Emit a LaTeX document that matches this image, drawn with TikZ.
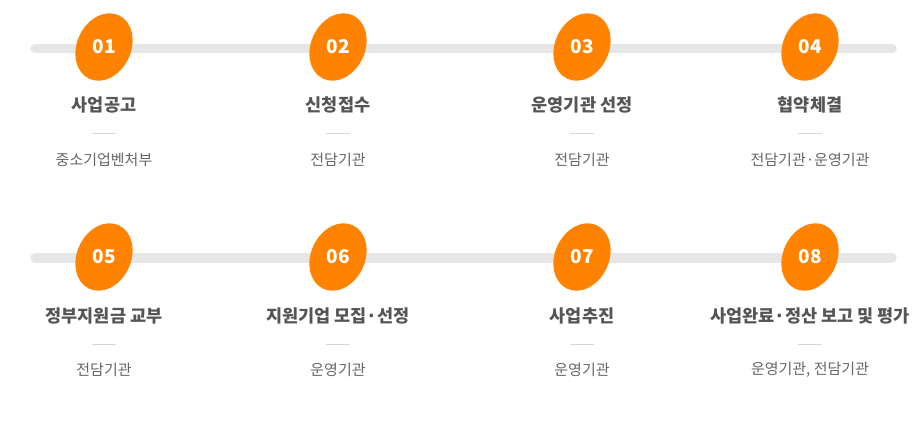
\documentclass[tikz,border=0pt]{standalone}
\usepackage{fontspec}
\setmainfont{Noto Sans CJK KR}
\usepackage{tikz}
\usetikzlibrary{calc}
\usetikzlibrary{positioning}
\definecolor{tangerine}{RGB}{255, 130, 0}
\definecolor{railgray}{RGB}{230, 230, 230}
\definecolor{titlegray}{RGB}{85, 85, 85}
\definecolor{subgray}{RGB}{102, 102, 102}
\definecolor{rulegray}{RGB}{215, 215, 215}

\begin{document}
\begin{tikzpicture}[x=1pt, y=-1pt,
        rail/.style={railgray, line width=9.5pt, line cap=round},
        blob/.style={fill=tangerine},
        num/.style={text=white, font=\fontsize{19}{19}\selectfont\bfseries, inner sep=0pt},
        title/.style={text=titlegray, font=\fontsize{17.5}{18}\selectfont\bfseries, inner sep=0pt},
        sub/.style={text=subgray, font=\fontsize{15}{16}\selectfont, inner sep=0pt},
        sepline/.style={rulegray, line width=0.8pt}]
    % Frame to fix the page size:
    \useasboundingbox (0, 0) rectangle (920, 420);
    % Rails
    \draw[rail] ( 35.0, 48.5) -- (892.0, 48.5);
    \draw[rail] ( 35.0,258.0) -- (892.0,258.0);
    % Step blobs, row one
    \fill[blob] (104.0, 47.0) ellipse [x radius=27, y radius=35, rotate=-25];
    \fill[blob] (338.0, 47.0) ellipse [x radius=27, y radius=35, rotate=-25];
    \fill[blob] (582.0, 47.0) ellipse [x radius=27, y radius=35, rotate=-25];
    \fill[blob] (810.0, 47.0) ellipse [x radius=27, y radius=35, rotate=-25];
    % Step blobs, row two
    \fill[blob] (104.0,257.0) ellipse [x radius=27, y radius=35, rotate=-25];
    \fill[blob] (338.0,257.0) ellipse [x radius=27, y radius=35, rotate=-25];
    \fill[blob] (582.0,257.0) ellipse [x radius=27, y radius=35, rotate=-25];
    \fill[blob] (810.0,257.0) ellipse [x radius=27, y radius=35, rotate=-25];
    % Numbers
    \node[num] (n1) at (104.0, 47.0) {01};
    \node[num] (n2) at (338.0, 47.0) {02};
    \node[num] (n3) at (582.0, 47.0) {03};
    \node[num] (n4) at (810.0, 47.0) {04};
    \node[num] (n5) at (104.0,257.0) {05};
    \node[num] (n6) at (338.0,257.0) {06};
    \node[num] (n7) at (582.0,257.0) {07};
    \node[num] (n8) at (810.0,257.0) {08};
    % Titles
    \node[title] (t1) at (104.0,105.0) {사업공고};
    \node[title] (t2) at (338.0,105.0) {신청접수};
    \node[title] (t3) at (582.0,105.0) {운영기관 선정};
    \node[title] (t4) at (810.0,105.0) {협약체결};
    \node[title] (t5) at (104.0,316.0) {정부지원금 교부};
    \node[title] (t6) at (338.0,316.0) {지원기업 모집·선정};
    \node[title] (t7) at (582.0,316.0) {사업추진};
    \node[title] (t8) at (810.0,316.0) {사업완료·정산 보고 및 평가};
    % Short rules under the titles
    \draw[sepline] ( 92.0,133.5) -- (116.0,133.5);
    \draw[sepline] (326.0,133.5) -- (350.0,133.5);
    \draw[sepline] (570.0,133.5) -- (594.0,133.5);
    \draw[sepline] (798.0,133.5) -- (822.0,133.5);
    \draw[sepline] ( 92.0,344.0) -- (116.0,344.0);
    \draw[sepline] (326.0,344.0) -- (350.0,344.0);
    \draw[sepline] (570.0,344.0) -- (594.0,344.0);
    \draw[sepline] (798.0,344.0) -- (822.0,344.0);
    % Who is in charge
    \node[sub] (s1) at (104.0,160.0) {중소기업벤처부};
    \node[sub] (s2) at (338.0,160.0) {전담기관};
    \node[sub] (s3) at (582.0,160.0) {전담기관};
    \node[sub] (s4) at (810.0,160.0) {전담기관·운영기관};
    \node[sub] (s5) at (104.0,370.0) {전담기관};
    \node[sub] (s6) at (338.0,370.0) {운영기관};
    \node[sub] (s7) at (582.0,370.0) {운영기관};
    \node[sub] (s8) at (810.0,370.0) {운영기관, 전담기관};
\end{tikzpicture}
\end{document}
